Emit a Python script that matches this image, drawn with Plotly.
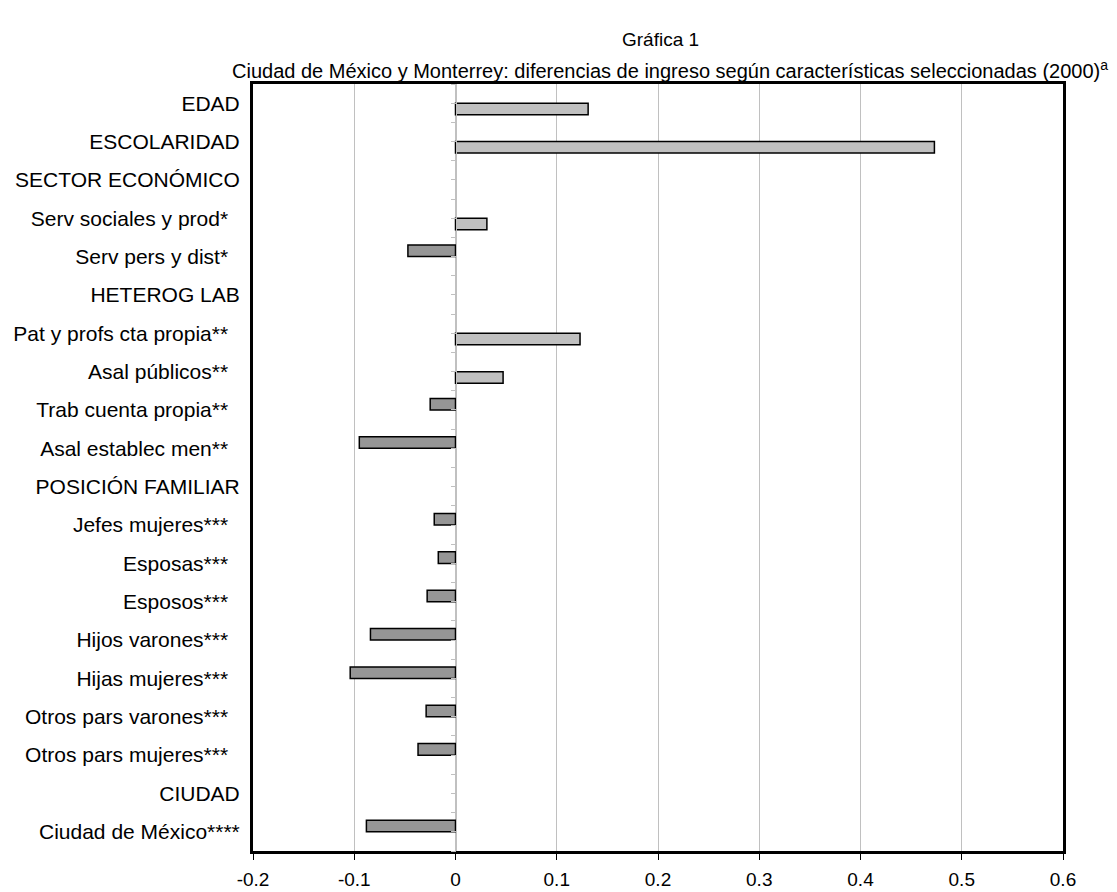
import plotly.graph_objects as go

categorias = [
    "EDAD", "ESCOLARIDAD", "SECTOR ECONÓMICO",
    "Serv sociales y prod*\u00a0\u00a0", "Serv pers y dist*\u00a0\u00a0",
    "HETEROG LAB",
    "Pat y profs cta propia**\u00a0\u00a0", "Asal públicos**\u00a0\u00a0",
    "Trab cuenta propia**\u00a0\u00a0", "Asal establec men**\u00a0\u00a0",
    "POSICIÓN FAMILIAR",
    "Jefes mujeres***\u00a0\u00a0", "Esposas***\u00a0\u00a0", "Esposos***\u00a0\u00a0",
    "Hijos varones***\u00a0\u00a0", "Hijas mujeres***\u00a0\u00a0",
    "Otros pars varones***\u00a0\u00a0", "Otros pars mujeres***\u00a0\u00a0",
    "CIUDAD", "Ciudad de México****",
]

# coeficientes positivos (barras claras) y negativos (barras oscuras)
positivos = [0.131, 0.473, None, 0.031, None, None, 0.123, 0.047, None, None,
             None, None, None, None, None, None, None, None, None, None]
negativos = [None, None, None, None, -0.047, None, None, None, -0.025, -0.095,
             None, -0.021, -0.017, -0.028, -0.084, -0.104, -0.029, -0.037, None, -0.088]

x_ticks = [-0.2, -0.1, 0, 0.1, 0.2, 0.3, 0.4, 0.5, 0.6]
x_ticktext = ["-0.2", "-0.1", "0", "0.1", "0.2", "0.3", "0.4", "0.5", "0.6"]

FONT = "Liberation Sans, Arial, sans-serif"

fig = go.Figure()
fig.add_trace(go.Bar(
    y=categorias, x=negativos, orientation="h",
    marker=dict(color="#969696", line=dict(color="black", width=1.5)),
    showlegend=False, hoverinfo="x+y",
))
fig.add_trace(go.Bar(
    y=categorias, x=positivos, orientation="h",
    marker=dict(color="#C0C0C0", line=dict(color="black", width=1.5)),
    showlegend=False, hoverinfo="x+y",
))
# helper trace so the secondary axis (ticks at x = 0) renders
fig.add_trace(go.Scatter(x=[], y=[], yaxis="y2", showlegend=False))

# page body has an 8px margin: figure is 1109x884 so the whole page is 1117x892
W, H = 1109, 884
L, R, T, B = 245, 54, 76, 41
plot_w = W - L - R
plot_h = H - T - B

def px_x(x):  # page x pixel -> paper coordinate
    return (x - 8 - L) / plot_w

def px_y(y):  # page y pixel -> paper coordinate
    return (H - B - (y - 8)) / plot_h

fig.update_layout(
    width=W, height=H,
    template="none",
    paper_bgcolor="white", plot_bgcolor="white",
    margin=dict(l=L, r=R, t=T, b=B, autoexpand=False),
    barmode="group", bargap=0.40, bargroupgap=0,
    font=dict(family=FONT, size=20, color="black"),
    xaxis=dict(
        range=[-0.2, 0.6], tickvals=x_ticks, ticktext=x_ticktext,
        showgrid=True, gridcolor="#C0C0C0", gridwidth=1,
        zeroline=True, zerolinecolor="#C0C0C0", zerolinewidth=1.5,
        showline=True, linecolor="black", linewidth=3, mirror=True,
        ticks="outside", ticklen=6, tickcolor="black", tickwidth=1,
        ticklabelstandoff=3,
        tickfont=dict(size=19), automargin=False,
    ),
    yaxis=dict(
        type="category", categoryorder="array", categoryarray=categorias,
        range=[19.5, -0.5],
        showgrid=False, zeroline=False,
        showline=True, linecolor="black", linewidth=3, mirror=True,
        ticks="", ticklabelstandoff=6, tickfont=dict(size=21),
        automargin=False,
    ),
    yaxis2=dict(
        overlaying="y", anchor="free", position=0.25, side="left",
        range=[19.5, -0.5], tick0=-0.5, dtick=0.5,
        showticklabels=False, showgrid=False, zeroline=False,
        showline=True, linecolor="#C0C0C0", linewidth=1,
        ticks="outside", ticklen=5, tickcolor="#C0C0C0", tickwidth=1,
    ),
    annotations=[
        dict(text="Gráfica 1", xref="paper", yref="paper",
             x=px_x(660), y=px_y(40),
             xanchor="center", yanchor="middle", showarrow=False,
             font=dict(size=19)),
        dict(text="Ciudad de México y Monterrey: diferencias de ingreso según características seleccionadas (2000)<sup>a</sup>",
             xref="paper", yref="paper", x=px_x(1110), y=px_y(70),
             xanchor="right", yanchor="middle", showarrow=False,
             font=dict(size=20)),
    ],
)

fig.write_html("out.html")
